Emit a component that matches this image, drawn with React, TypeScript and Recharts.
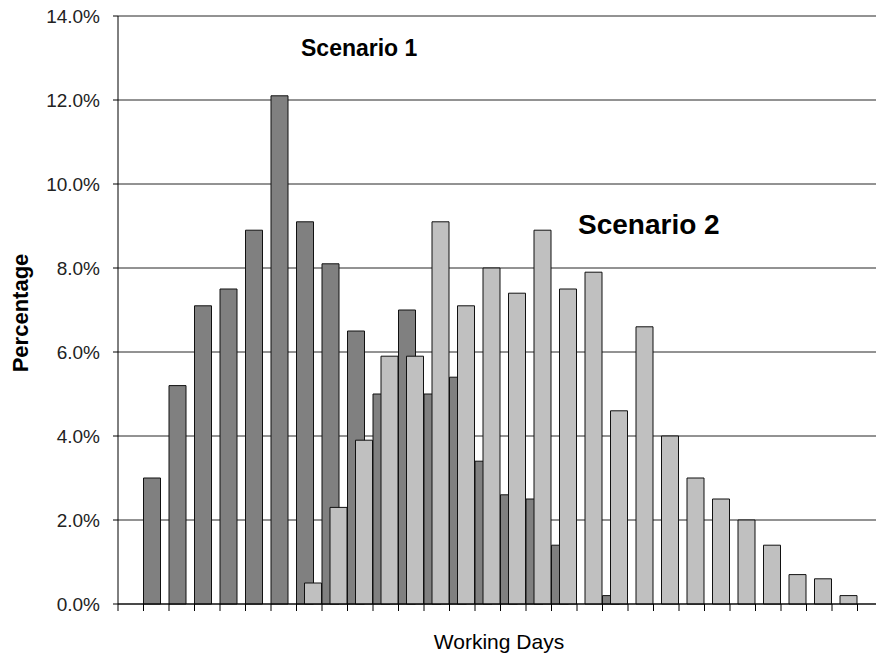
import { BarChart, Bar, XAxis, YAxis, CartesianGrid } from 'recharts';

// working day buckets (no labels shown on the axis)
const DAYS = [
  '1', '2', '3', '4', '5', '6', '7', '8', '9', '10',
  '11', '12', '13', '14', '15', '16', '17', '18', '19', '20',
  '21', '22', '23', '24', '25', '26', '27', '28', '29', '30',
];

// share of runs finishing in each bucket (%)
const SCENARIO_1 = [
  null, 3.0, 5.2, 7.1, 7.5, 8.9, 12.1, 9.1, 8.1, 6.5,
  5.0, 7.0, 5.0, 5.4, 3.4, 2.6, 2.5, 1.4, null, 0.2,
  null, null, null, null, null, null, null, null, null, null,
];
const SCENARIO_2 = [
  null, null, null, null, null, null, null, 0.5, 2.3, 3.9,
  5.9, 5.9, 9.1, 7.1, 8.0, 7.4, 8.9, 7.5, 7.9, 4.6,
  6.6, 4.0, 3.0, 2.5, 2.0, 1.4, 0.7, 0.6, 0.2, null,
];

const Y_TICKS = [0, 2, 4, 6, 8, 10, 12, 14];

const data = DAYS.map((day, i) => ({ day, s1: SCENARIO_1[i], s2: SCENARIO_2[i] }));

const CHART_W = 883;
const CHART_H = 658;
const Y_AXIS_W = 118;
const X_AXIS_H = 54;
const PLOT_BOTTOM = CHART_H - X_AXIS_H;
const BAND = (CHART_W - Y_AXIS_W) / DAYS.length;
const FONT = '"Liberation Sans", Arial, sans-serif';

// Excel-style ticks sit on the category boundaries, not the centres
const BoundaryTick = ({ x }: any) => (
  <line
    x1={x - BAND / 2}
    x2={x - BAND / 2}
    y1={PLOT_BOTTOM}
    y2={PLOT_BOTTOM + 7}
    stroke="#000"
    strokeWidth={1}
  />
);

export default function App() {
  return (
    <div
      style={{
        position: 'absolute',
        left: 0,
        top: 0,
        width: 876,
        height: 658,
        overflow: 'hidden',
        background: '#fff',
      }}
    >
      <BarChart
        width={CHART_W}
        height={CHART_H}
        data={data}
        margin={{ top: 16, right: 0, bottom: 0, left: 0 }}
        barCategoryGap={0}
        barGap={-9}
      >
        <CartesianGrid vertical={false} stroke="#000" strokeOpacity={0.85} />
        <XAxis
          dataKey="day"
          height={X_AXIS_H}
          interval={0}
          tickLine={false}
          axisLine={{ stroke: '#000' }}
          tick={<BoundaryTick />}
        />
        <YAxis
          width={Y_AXIS_W}
          domain={[0, 14]}
          ticks={Y_TICKS}
          tickSize={5}
          tickMargin={13}
          tickLine={{ stroke: '#000' }}
          axisLine={{ stroke: '#000' }}
          tickFormatter={v => `${v.toFixed(1)}%`}
          tick={{ fill: '#222', fontSize: 19, fontFamily: FONT }}
        />
        <Bar dataKey="s1" fill="#808080" stroke="#111" strokeWidth={1} isAnimationActive={false} />
        <Bar dataKey="s2" fill="#C0C0C0" stroke="#111" strokeWidth={1} isAnimationActive={false} />
      </BarChart>

      <svg
        width={876}
        height={658}
        style={{ position: 'absolute', left: 0, top: 0, pointerEvents: 'none' }}
        fontFamily={FONT}
      >
        <text x={301} y={56} fontSize={23} fontWeight="bold" fill="#000">Scenario 1</text>
        <text x={578} y={234} fontSize={28} fontWeight="bold" fill="#000">Scenario 2</text>
        <text x={499} y={649} fontSize={21} textAnchor="middle" fill="#000">Working Days</text>
        <text
          x={28}
          y={313}
          fontSize={22}
          fontWeight="bold"
          textAnchor="middle"
          fill="#000"
          transform="rotate(-90 28 313)"
        >
          Percentage
        </text>
      </svg>
    </div>
  );
}
